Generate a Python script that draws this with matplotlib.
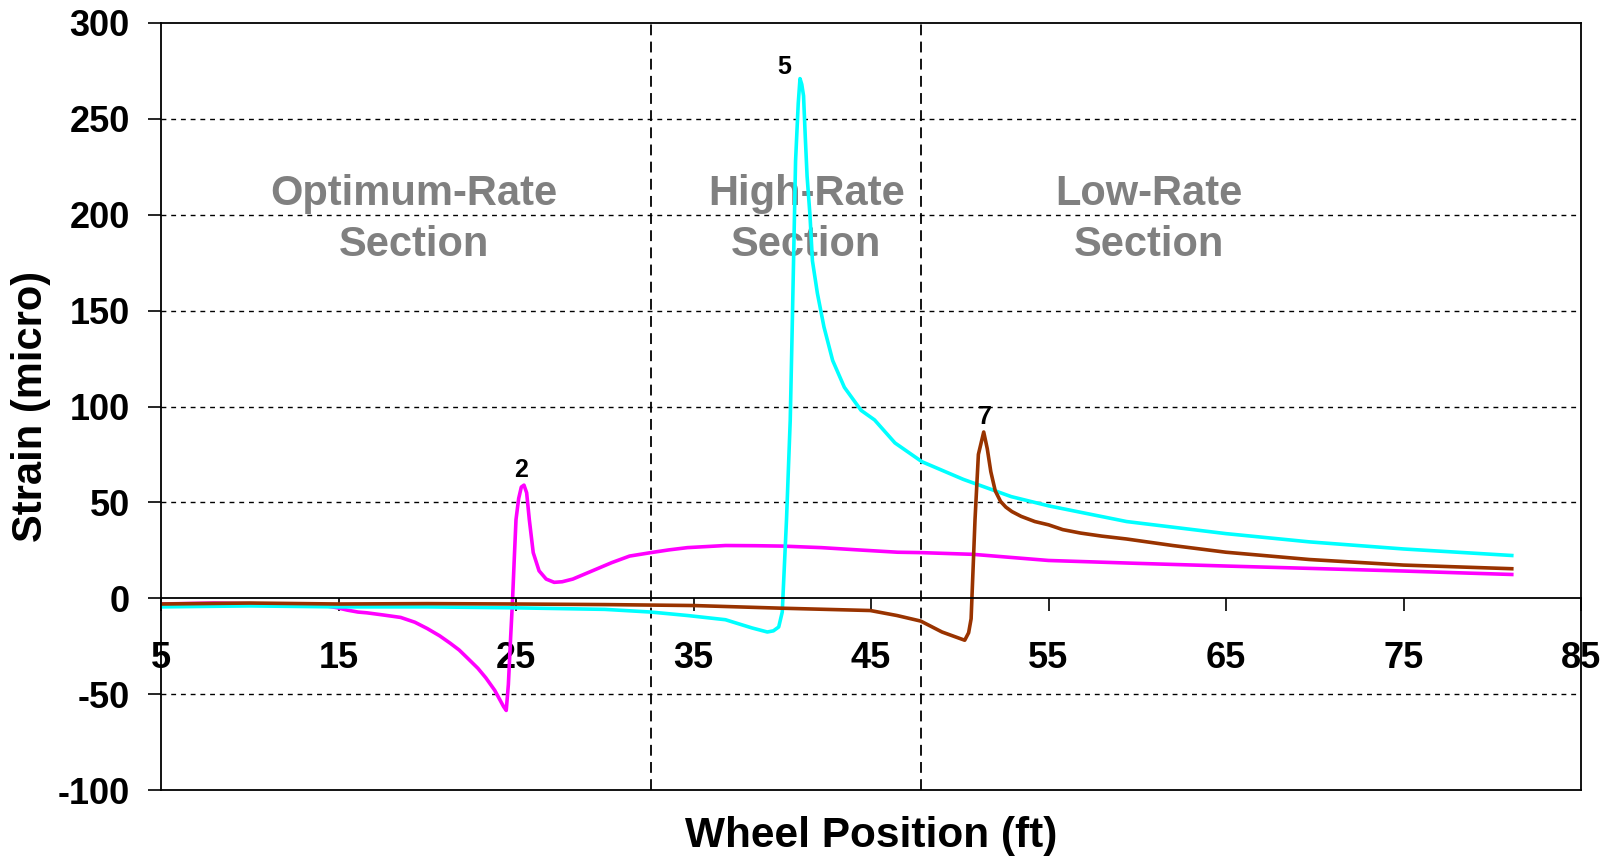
import matplotlib
matplotlib.use("Agg")
import matplotlib.pyplot as plt

plt.rcParams["font.family"] = ["Liberation Sans", "DejaVu Sans"]
plt.rcParams["font.weight"] = "bold"
plt.rcParams["axes.unicode_minus"] = False

# Gauge 2 (magenta)
g2_x = [5, 8, 11, 13, 14.2, 14.9, 15.5, 16.1, 16.6, 17.5, 18.5, 19.3, 20.0, 20.7, 21.3,
        21.8, 22.3, 22.85, 23.3, 23.8, 24.3, 24.45, 24.57, 24.7, 24.8, 24.9, 25.0, 25.15,
        25.3, 25.45, 25.6, 25.75, 25.97, 26.3, 26.7, 27.15, 27.6, 28.2, 29.3, 30.4,
        31.4, 32.6, 33.6, 34.66, 36.8, 38.5, 40.0, 42.2, 44.3, 46.5, 47.8, 50.75,
        55, 60, 65, 70, 75, 78, 81.1]
g2_y = [-3, -2.5, -3, -3, -3.8, -4.9, -6.2, -7.2, -7.6, -8.7, -10, -12.5, -15.8, -19.6, -23.5,
        -27, -31.5, -36.5, -41.5, -48, -56.5, -58.5, -45, -20, -2, 20, 41, 52,
        58, 59, 55, 41, 23.8, 14.3, 10, 8.3, 8.6, 10, 14.3, 18.6,
        22, 23.8, 25.2, 26.4, 27.5, 27.4, 27.2, 26.4, 25.2, 24, 23.8, 22.9,
        19.7, 18.2, 16.8, 15.5, 14.2, 13.3, 12.4]

# Gauge 5 (cyan)
g5_x = [5, 10, 15, 20, 25, 30, 32.6, 34.66, 36.8, 38.3, 39.16, 39.5, 39.8, 40.0,
        40.24, 40.45, 40.55, 40.75, 40.9, 41.0, 41.1, 41.2, 41.3, 41.4, 41.56, 41.7,
        41.98, 42.35, 42.84, 43.5, 44.44, 45.2, 46.35, 47.87, 50.2, 52.9, 55, 59.4,
        65, 69.7, 75, 81.1]
g5_y = [-4.5, -4, -4.5, -4.5, -5, -5.8, -7.2, -9, -11.2, -15.5, -17.6, -17, -15, -7.2,
        41, 93, 136, 228, 258, 271, 268, 262, 240, 220, 200, 176,
        159, 141.5, 124, 110, 98, 93, 81, 71.2, 62, 53, 48.2, 40,
        33.7, 29.4, 25.7, 22.3]

# Gauge 7 (brown)
g7_x = [5, 10, 15, 20, 25, 30, 35, 40, 44.96, 46.46, 47.8, 49.0, 50.28, 50.5, 50.64,
        50.86, 51.05, 51.35, 51.55, 51.75, 52.0, 52.3, 52.6, 52.94, 53.46, 54.23, 55,
        55.8, 56.8, 58, 59.4, 62, 65, 69.7, 75, 81.1]
g7_y = [-3, -2.5, -3, -2.8, -3, -3.3, -3.8, -5.2, -6.4, -9, -11.9, -17.6, -21.9, -18, -10.7,
        41, 75, 86.7, 78, 66, 56, 50.5, 47.5, 45.2, 42.7, 40, 38.3,
        35.8, 34, 32.4, 30.9, 27.5, 24, 20.2, 17.3, 15.4]

# Peak labels
peak_labels = ["2", "5", "7"]
peak_label_x = [25.3, 40.1, 51.4]
peak_label_y = [63.4, 273.5, 91]

# Section boundaries and titles
section_bounds = [32.6, 47.8]
section_names = ["Optimum-Rate\nSection", "High-Rate\nSection", "Low-Rate\nSection"]
section_x = [19.23, 41.35, 60.66]
section_y = 178.5

x_ticks = list(range(5, 86, 10))
y_ticks = list(range(-100, 301, 50))
grid_levels = [-50, 50, 100, 150, 200, 250]

fig = plt.figure(figsize=(16.12, 8.59), dpi=100)
ax = fig.add_axes([161 / 1612, 1 - 790 / 859, 1420 / 1612, 767 / 859])
ax.set_xlim(5, 85)
ax.set_ylim(-100, 300)

# Horizontal dashed gridlines
for g in grid_levels:
    ax.axhline(g, color="black", lw=1.0, ls=(0, (3.5, 3.5)), zorder=1)
# Section boundaries
for b in section_bounds:
    ax.axvline(b, color="black", lw=1.3, ls=(0, (6, 3.5)), zorder=1)

# Section titles
for sx, name in zip(section_x, section_names):
    ax.text(sx, section_y, name, ha="center", va="baseline", fontsize=30,
            color="#808080", fontweight="bold", linespacing=1.36, zorder=2)

# Strain traces
ax.plot(g2_x, g2_y, color="#FF00FF", lw=2.6, zorder=3)
ax.plot(g5_x, g5_y, color="#00FFFF", lw=2.6, zorder=4)
ax.plot(g7_x, g7_y, color="#993300", lw=2.6, zorder=5)

for t, px, py in zip(peak_labels, peak_label_x, peak_label_y):
    ax.text(px, py, t, ha="center", va="baseline", fontsize=18,
            fontweight="bold", color="black", zorder=6)

# Axes: x axis crosses at zero, full frame around the plot
ax.spines["bottom"].set_position(("data", 0))
for s in ax.spines.values():
    s.set_linewidth(1.3)
    s.set_zorder(6)
ax.axhline(-100, color="black", lw=1.3, clip_on=False, zorder=6)

ax.set_xticks(x_ticks)
ax.set_yticks(y_ticks)
ax.tick_params(axis="x", direction="out", length=9, width=1.2, pad=22,
               labelsize=26)
ax.tick_params(axis="y", direction="out", length=9.4, width=1.2, pad=13,
               labelsize=26)
for lab in ax.get_xticklabels() + ax.get_yticklabels():
    lab.set_fontweight("bold")

fig.text(31 / 1612, 1 - 406 / 859, "Strain (micro)", rotation=90, ha="center",
         va="center", fontsize=30, fontweight="bold")
fig.text(871 / 1612, 1 - 836 / 859, "Wheel Position (ft)", ha="center",
         va="center", fontsize=30.5, fontweight="bold")

fig.savefig("out.png", dpi=100, facecolor="white")
